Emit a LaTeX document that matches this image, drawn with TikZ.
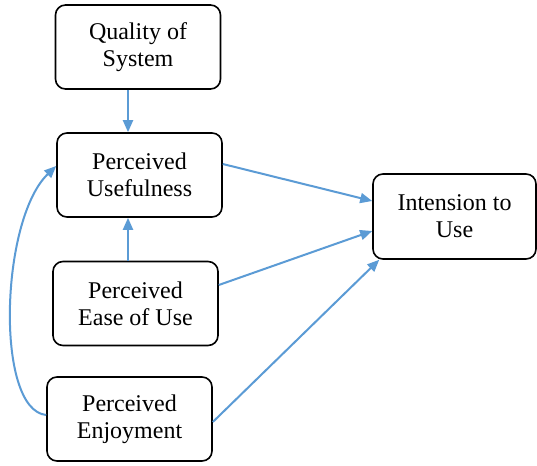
\documentclass[tikz,border=0pt]{standalone}
\usepackage{fontspec}
\setmainfont{Liberation Serif}
\usetikzlibrary{arrows.meta}
\definecolor{arrowblue}{HTML}{5B9BD5}
\begin{document}
\begin{tikzpicture}[x=1pt,y=-1pt,
  box/.style={draw=black,line width=1.6pt,rounded corners=10pt,fill=white,
    minimum width=165pt,minimum height=84pt,inner sep=0pt,align=center,
    font=\fontsize{24}{27}\selectfont},
  arr/.style={draw=arrowblue,line width=2pt,-{Triangle[length=12pt,width=10pt]}}]
\useasboundingbox[fill=white] (0,0) rectangle (537,465);
\node[box] (Q) at (138,47) {Quality of\\System};
\node[box] (PU) at (139.5,175) {Perceived\\Usefulness};
\node[box] (PE) at (135.5,303.5) {Perceived\\Ease of Use};
\node[box] (PJ) at (129.5,419) {Perceived\\Enjoyment};
\node[box,minimum width=163pt,minimum height=85pt] (IU) at (454.5,216.5) {Intension to\\Use};
\coordinate (c) at (128,0);
\draw[arr] (Q.south -| c) -- (PU.north -| c);
\draw[arr] (PE.north -| c) -- (PU.south -| c);
\draw[arr] ([yshift=11pt]PU.east) -- ([yshift=15.5pt]IU.west);
\draw[arr] ([yshift=18.5pt]PE.east) -- ([yshift=-14.5pt]IU.west);
\draw[arr] ([yshift=-3pt]PJ.east) -- ([xshift=7pt]IU.south west);
\draw[arr] ([yshift=4pt]PJ.west) .. controls (-5,410) and (0,220) .. ([yshift=9pt]PU.west);
\end{tikzpicture}
\end{document}
